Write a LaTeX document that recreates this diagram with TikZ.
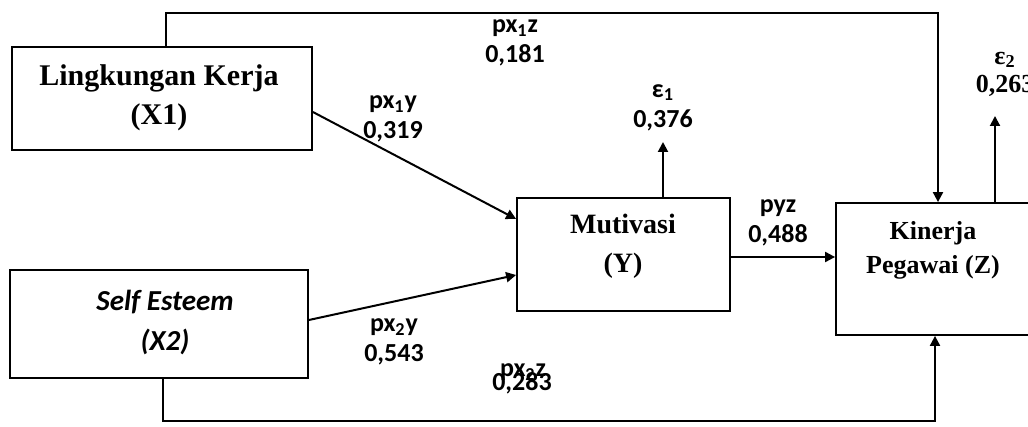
\documentclass[tikz,border=0pt]{standalone}
\usepackage{fontspec}
\setmainfont{Liberation Serif}
\newfontfamily\calibri{Carlito}
\usetikzlibrary{arrows.meta}

\begin{document}
\begin{tikzpicture}[x=0.5pt,y=-0.5pt,>={Triangle[length=5pt,width=5pt]},
    box/.style={draw,line width=0.9pt,inner sep=0pt},
    varname/.style={font=\fontsize{15}{19.5}\selectfont\bfseries,align=center},
    coef/.style={font=\calibri\bfseries\fontsize{13}{15}\selectfont,align=center,inner sep=1pt},
    link/.style={line width=1pt,->}]
        % --- 1. Frame ---
        \useasboundingbox (0,0) rectangle (1028,427);
        \clip (0,0) rectangle (1028,427);

        % --- 2. Variable Boxes ---
        \node[box,minimum width=150pt,minimum height=51.5pt] (X1) at (162,98.5) {};
        \node[box,minimum width=149pt,minimum height=54pt] (X2) at (159,324) {};
        \node[box,minimum width=106.5pt,minimum height=56.5pt] (Y) at (623.5,254.5) {};
        \node[box,minimum width=112pt,minimum height=66pt] (Z) at (948,269) {};

        \node[varname] (X1text) at (159,98) {Lingkungan Kerja\\(X1)};
        \node[varname,font=\calibri\bfseries\itshape\fontsize{14.5}{20}\selectfont] (X2text) at (165,322) {Self Esteem\\(X2)};
        \node[varname,font=\fontsize{14}{19.5}\selectfont\bfseries] (Ytext) at (623,246.5) {Mutivasi\\(Y)};
        \node[varname,font=\fontsize{13}{17}\selectfont\bfseries] (Ztext) at (933,250) {Kinerja\\Pegawai (Z)};

        % --- 3. Path Coefficients ---
        \node[coef] (C1) at (393,119) {px\textsubscript{1}y\\0,319};
        \node[coef] (C2) at (394,342) {px\textsubscript{2}y\\0,543};
        \node[coef] (C3) at (515,43) {px\textsubscript{1}z\\0,181};
        \node[coef] (C4a) at (523,372) {px\textsubscript{2}z};
        \node[coef] (C4b) at (522,383) {0,283};
        \node[coef] (C5) at (778,222.5) {pyz\\0,488};

        % Residuals
        \node[coef] (E1) at (663,107.5) {ε\textsubscript{1}\\0,376};
        \node[coef,font=\fontsize{13}{14}\selectfont\bfseries] (E2) at (1005,74) {ε\textsubscript{2}\\0,263};
        \coordinate (E1tip) at (663,142);
        \coordinate (E2tip) at (995,116);

        % --- 4. Connectors ---
        \draw[link] (X1.east |- 0,112) -- (Y.west |- 0,219);
        \draw[link] (X2.east |- 0,320) -- (Y.west |- 0,275);
        \draw[link] (Y.east |- 0,257) -- (Z.west |- 0,257);

        \draw[link] (X1.north -| 166,0) -- (166,13) -- (938,13) -- (Z.north -| 938,0);
        \draw[link] (X2.south -| 163,0) -- (163,421) -- (935,421) -- (Z.south -| 935,0);

        \draw[link] (Y.north -| E1tip) -- (E1tip);
        \draw[link] (Z.north -| E2tip) -- (E2tip);

    \end{tikzpicture}
\end{document}
